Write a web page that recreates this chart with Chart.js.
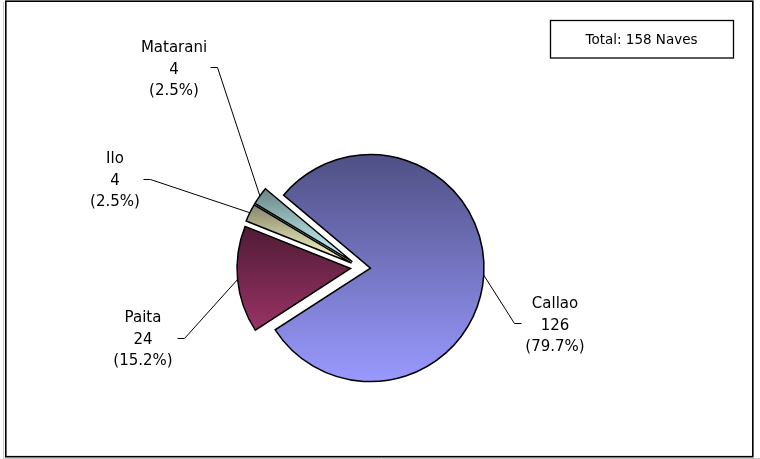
<!DOCTYPE html>
<html>
<head>
<meta charset="utf-8">
<script src="https://cdn.jsdelivr.net/npm/chart.js@4.4.1/dist/chart.umd.min.js"></script>
<style>
  html, body { margin: 0; padding: 0; background: #fff; }
  #wrap { position: relative; width: 760px; height: 459px; }
  canvas { display: block; }
</style>
</head>
<body>
<div id="wrap"><canvas id="c" width="760" height="459"></canvas></div>
<script>
// ---- data ----
const categories = ['Callao', 'Paita', 'Ilo', 'Matarani'];
const naves = [126, 24, 4, 4];
const unitLabel = 'Naves';

// ---- style / layout (not data) ----
const baseColors = [[153, 153, 255], [153, 51, 102], [255, 255, 204], [204, 255, 255]];
const darkFactor = 0.52;
const explode = 10;
const pieRadius = 113.5;
const rotationDeg = -50;
const labelFont = '15px "DejaVu Sans", sans-serif';
const lineH = 21.5;
// label text centre x, first baseline y, elbow (x,y) and which side the elbow tick goes
const labelLayout = [
  { cx: 555, y: 308, ex: 521, ey: 323, dir: -1 },
  { cx: 143, y: 322, ex: 177, ey: 338, dir: 1 },
  { cx: 115, y: 163, ex: 143, ey: 179, dir: 1 },
  { cx: 174, y: 52,  ex: 210, ey: 67,  dir: 1 }
];

const total = naves.reduce((a, b) => a + b, 0);

function sliceGeom(chart, i) {
  const ca = chart.chartArea;
  const bx = (ca.left + ca.right) / 2, by = (ca.top + ca.bottom) / 2;
  let start = (rotationDeg - 90) * Math.PI / 180;
  for (let k = 0; k < i; k++) start += 2 * Math.PI * naves[k] / total;
  const end = start + 2 * Math.PI * naves[i] / total;
  const mid = (start + end) / 2;
  return { x: bx + explode * Math.cos(mid), y: by + explode * Math.sin(mid), start, end, mid, r: pieRadius };
}

function gradientFor(context) {
  const chart = context.chart;
  const i = context.dataIndex;
  const c = baseColors[i];
  const light = `rgb(${c[0]},${c[1]},${c[2]})`;
  const dark = `rgb(${Math.round(c[0]*darkFactor)},${Math.round(c[1]*darkFactor)},${Math.round(c[2]*darkFactor)})`;
  if (!chart.chartArea || i === undefined) return light;
  const g = sliceGeom(chart, i);
  // vertical extent of the slice
  const ys = [g.y, g.y + g.r * Math.sin(g.start), g.y + g.r * Math.sin(g.end)];
  const norm = a => ((a % (2 * Math.PI)) + 2 * Math.PI) % (2 * Math.PI);
  const contains = ang => {
    const s = norm(g.start), span = g.end - g.start;
    return norm(ang - s) <= span;
  };
  if (contains(Math.PI / 2)) ys.push(g.y + g.r);
  if (contains(-Math.PI / 2)) ys.push(g.y - g.r);
  const y0 = Math.min(...ys), y1 = Math.max(...ys);
  const grd = chart.ctx.createLinearGradient(0, y0, 0, y1);
  grd.addColorStop(0, dark);
  grd.addColorStop(1, light);
  return grd;
}

const explodePlugin = {
  id: 'explode',
  afterDatasetUpdate(chart, args) {
    const meta = args.meta;
    meta.data.forEach((arc, i) => {
      const g = sliceGeom(chart, i);
      arc.x = g.x;
      arc.y = g.y;
    });
  }
};

const decorPlugin = {
  id: 'decor',
  afterDraw(chart) {
    const ctx = chart.ctx;
    ctx.save();
    // outer frame
    ctx.strokeStyle = '#c8c8c8';
    ctx.lineWidth = 1;
    ctx.beginPath();
    ctx.moveTo(3.5, 2); ctx.lineTo(3.5, 459);
    ctx.moveTo(3, 458.5); ctx.lineTo(760, 458.5);
    ctx.stroke();
    ctx.strokeStyle = '#000';
    ctx.lineWidth = 1.6;
    ctx.strokeRect(5.8, 1.2, 747, 455.5);

    // total box
    ctx.lineWidth = 1.3;
    ctx.strokeRect(550.5, 20.5, 183, 37.5);
    ctx.fillStyle = '#000';
    ctx.font = '13.5px "DejaVu Sans", sans-serif';
    ctx.textAlign = 'center';
    ctx.textBaseline = 'alphabetic';
    ctx.fillText('Total: ' + total + ' ' + unitLabel, 641.5, 43.5);

    // labels + leader lines
    ctx.font = labelFont;
    ctx.lineWidth = 1;
    categories.forEach((name, i) => {
      const L = labelLayout[i];
      const g = sliceGeom(chart, i);
      const px = g.x + g.r * Math.cos(g.mid);
      const py = g.y + g.r * Math.sin(g.mid);
      ctx.beginPath();
      ctx.moveTo(L.ex + 0.5, L.ey + 0.5);
      ctx.lineTo(L.ex + L.dir * 7 + 0.5, L.ey + 0.5);
      ctx.lineTo(px, py);
      ctx.stroke();
      const pct = (naves[i] / total * 100).toFixed(1) + '%';
      ctx.fillText(name, L.cx, L.y);
      ctx.fillText(String(naves[i]), L.cx, L.y + lineH);
      ctx.fillText('(' + pct + ')', L.cx, L.y + 2 * lineH);
    });
    ctx.restore();
  }
};

new Chart(document.getElementById('c'), {
  type: 'pie',
  data: {
    labels: categories,
    datasets: [{
      data: naves,
      backgroundColor: gradientFor,
      borderColor: '#000',
      borderWidth: 1.5,
      borderJoinStyle: 'miter',
      radius: pieRadius
    }]
  },
  options: {
    responsive: false,
    animation: false,
    events: [],
    rotation: rotationDeg,
    layout: { padding: { left: 20, right: 59, top: 96, bottom: 20 } },
    plugins: { legend: { display: false }, tooltip: { enabled: false } }
  },
  plugins: [explodePlugin, decorPlugin]
});
</script>
</body>
</html>
